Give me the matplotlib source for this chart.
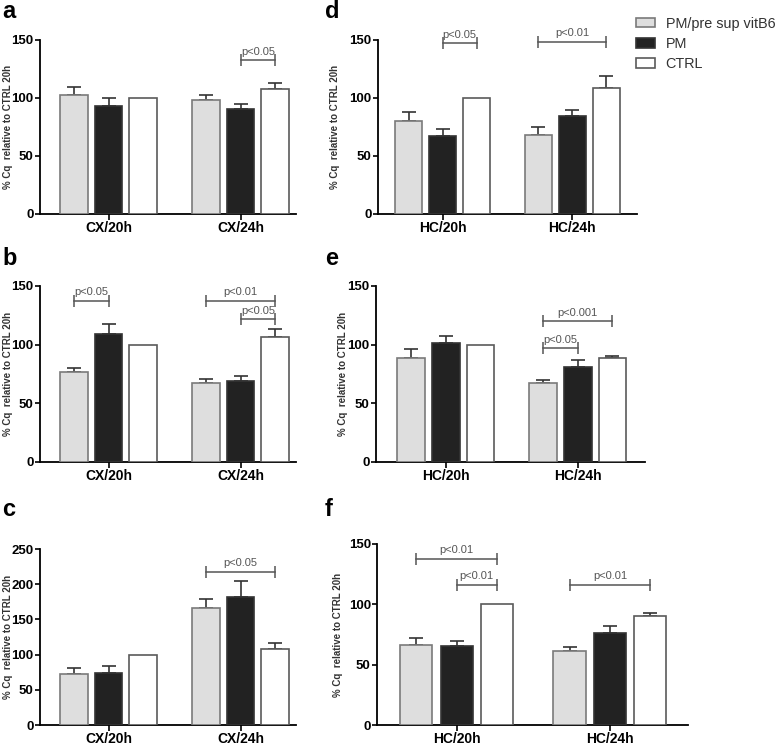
import numpy as np
import matplotlib
matplotlib.use("Agg")
from matplotlib import pyplot as plt
from matplotlib.patches import Patch

plt.rcParams['font.family'] = ['Liberation Sans', 'DejaVu Sans']

# ---- data -------------------------------------------------------------
series = ['PM/pre sup vitB6', 'PM', 'CTRL']
cx_groups = ['CX/20h', 'CX/24h']
hc_groups = ['HC/20h', 'HC/24h']

# panel a
a_vitb6, a_vitb6_err = [102.9, 98.3], [6.3, 4.0]
a_pm, a_pm_err = [92.8, 90.5], [7.2, 4.3]
a_ctrl, a_ctrl_err = [100, 108.1], [0, 4.9]
# panel b
b_vitb6, b_vitb6_err = [76.4, 67.3], [3.4, 3.7]
b_pm, b_pm_err = [108.8, 69.0], [8.8, 4.2]
b_ctrl, b_ctrl_err = [100, 106.3], [0, 6.8]
# panel c
c_vitb6, c_vitb6_err = [72.0, 165.7], [9.5, 13.2]
c_pm, c_pm_err = [74.4, 181.3], [9.9, 23.5]
c_ctrl, c_ctrl_err = [100, 108.3], [0, 8.5]
# panel d
d_vitb6, d_vitb6_err = [80.2, 67.7], [7.3, 7.3]
d_pm, d_pm_err = [67.3, 84.2], [5.9, 5.8]
d_ctrl, d_ctrl_err = [100, 108.8], [0, 10.2]
# panel e
e_vitb6, e_vitb6_err = [88.6, 67.1], [7.7, 2.6]
e_pm, e_pm_err = [101.4, 80.9], [6.0, 6.0]
e_ctrl, e_ctrl_err = [100, 88.6], [0, 1.4]
# panel f
f_vitb6, f_vitb6_err = [66.2, 61.0], [5.7, 3.8]
f_pm, f_pm_err = [65.1, 76.3], [4.4, 5.4]
f_ctrl, f_ctrl_err = [100, 90.5], [0, 2.7]

# significance brackets: (group, bar i, bar j, height, label)
a_sig = [(1, 1, 2, 132.5, 'p<0.05')]
b_sig = [(0, 0, 1, 137.3, 'p<0.05'), (1, 0, 2, 137.3, 'p<0.01'), (1, 1, 2, 121.6, 'p<0.05')]
c_sig = [(1, 0, 2, 218, 'p<0.05')]
d_sig = [(0, 1, 2, 147.2, 'p<0.05'), (1, 0, 2, 148.5, 'p<0.01')]
e_sig = [(1, 0, 2, 120, 'p<0.001'), (1, 0, 1, 97.1, 'p<0.05')]
f_sig = [(0, 0, 2, 137.6, 'p<0.01'), (0, 1, 2, 116.4, 'p<0.01'), (1, 0, 2, 116.4, 'p<0.01')]

# ---- style ------------------------------------------------------------
W, H = 778, 748
fills = ['#dedede', '#222222', 'white']
edges = ['#7a7a7a', '#333333', '#5a5a5a']
offs = [-0.263, 0, 0.263]
bw = 0.21
gray = '#555555'

fig = plt.figure(figsize=(W / 100, H / 100), dpi=100)


def px_axes(l, r, t, b):
    return fig.add_axes([l / W, 1 - b / H, (r - l) / W, (b - t) / H])


def panel(box, xlim, groups, vals, errs, ymax, sig, letter, lpos, ylab_x):
    ax = px_axes(*box)
    x = np.arange(len(groups))
    for k in range(3):
        xs = x + offs[k]
        ax.bar(xs, vals[k], width=bw, color=fills[k], edgecolor=edges[k],
               linewidth=1.2, zorder=3)
        e = np.array(errs[k], dtype=float)
        m = e > 0
        if m.any():
            ax.errorbar(xs[m], np.array(vals[k])[m], yerr=[np.zeros(m.sum()), e[m]],
                        fmt='none', ecolor='#333333', elinewidth=1.2, capsize=5,
                        capthick=1.2, zorder=2)
    for g, i, j, y, lab in sig:
        x1, x2 = g + offs[i], g + offs[j]
        ax.plot([x1, x2], [y, y], color=gray, lw=1.1, marker='|', ms=8, mew=1.1,
                clip_on=False, zorder=4)
        ax.annotate(lab, xy=((x1 + x2) / 2, y), xytext=(0, 2.5), textcoords='offset points',
                    ha='center', va='bottom', fontsize=8, color=gray)
    ax.set_xlim(*xlim)
    ax.set_ylim(0, ymax)
    ax.set_yticks(np.arange(0, ymax + 1, 50))
    ax.set_xticks(x)
    ax.set_xticklabels(groups, fontsize=10, fontweight='bold')
    for t in ax.get_yticklabels():
        t.set_fontweight('bold')
        t.set_fontsize(9.5)
    ax.tick_params(axis='y', length=3.5, width=1.2, pad=1)
    ax.tick_params(axis='x', length=4, width=1.2, pad=1)
    for s in ['top', 'right']:
        ax.spines[s].set_visible(False)
    for s in ['left', 'bottom']:
        ax.spines[s].set_linewidth(1.3)
    ax.set_ylabel('% Cq  relative to CTRL 20h', fontsize=7, fontweight='bold', color='#333333',
                  va='center')
    ax.yaxis.set_label_coords(-(box[0] - ylab_x) / (box[1] - box[0]), 0.5)
    fig.text(lpos[0] / W, 1 - lpos[1] / H, letter, fontsize=17, fontweight='bold',
             va='baseline', ha='left')
    return ax


panel((40, 296, 40, 214), (-0.52, 1.42), cx_groups,
      [a_vitb6, a_pm, a_ctrl], [a_vitb6_err, a_pm_err, a_ctrl_err], 150, a_sig, 'a', (2, 18), 8)
panel((40, 296, 286, 462), (-0.52, 1.42), cx_groups,
      [b_vitb6, b_pm, b_ctrl], [b_vitb6_err, b_pm_err, b_ctrl_err], 150, b_sig, 'b', (2, 265), 8)
panel((40, 296, 549, 725), (-0.52, 1.42), cx_groups,
      [c_vitb6, c_pm, c_ctrl], [c_vitb6_err, c_pm_err, c_ctrl_err], 250, c_sig, 'c', (2, 516), 8)
panel((378, 637, 40, 214), (-0.5, 1.5), hc_groups,
      [d_vitb6, d_pm, d_ctrl], [d_vitb6_err, d_pm_err, d_ctrl_err], 150, d_sig, 'd', (325, 18), 335)
panel((376, 645, 286, 462), (-0.53, 1.51), hc_groups,
      [e_vitb6, e_pm, e_ctrl], [e_vitb6_err, e_pm_err, e_ctrl_err], 150, e_sig, 'e', (325, 265), 343)
panel((377, 688, 544, 725), (-0.52, 1.51), hc_groups,
      [f_vitb6, f_pm, f_ctrl], [f_vitb6_err, f_pm_err, f_ctrl_err], 150, f_sig, 'f', (325, 516), 338)

handles = [Patch(facecolor=fills[k], edgecolor=edges[k], linewidth=1.2) for k in range(3)]
leg = fig.legend(handles, series, loc='upper left', bbox_to_anchor=(636 / W, 1 - 17 / H),
                 frameon=False, fontsize=10.4, handlelength=1.3, handleheight=0.6,
                 handletextpad=0.75, labelspacing=0.42, borderpad=0, borderaxespad=0)
for t in leg.get_texts():
    t.set_color('#333333')

fig.savefig('out.png', dpi=100)
